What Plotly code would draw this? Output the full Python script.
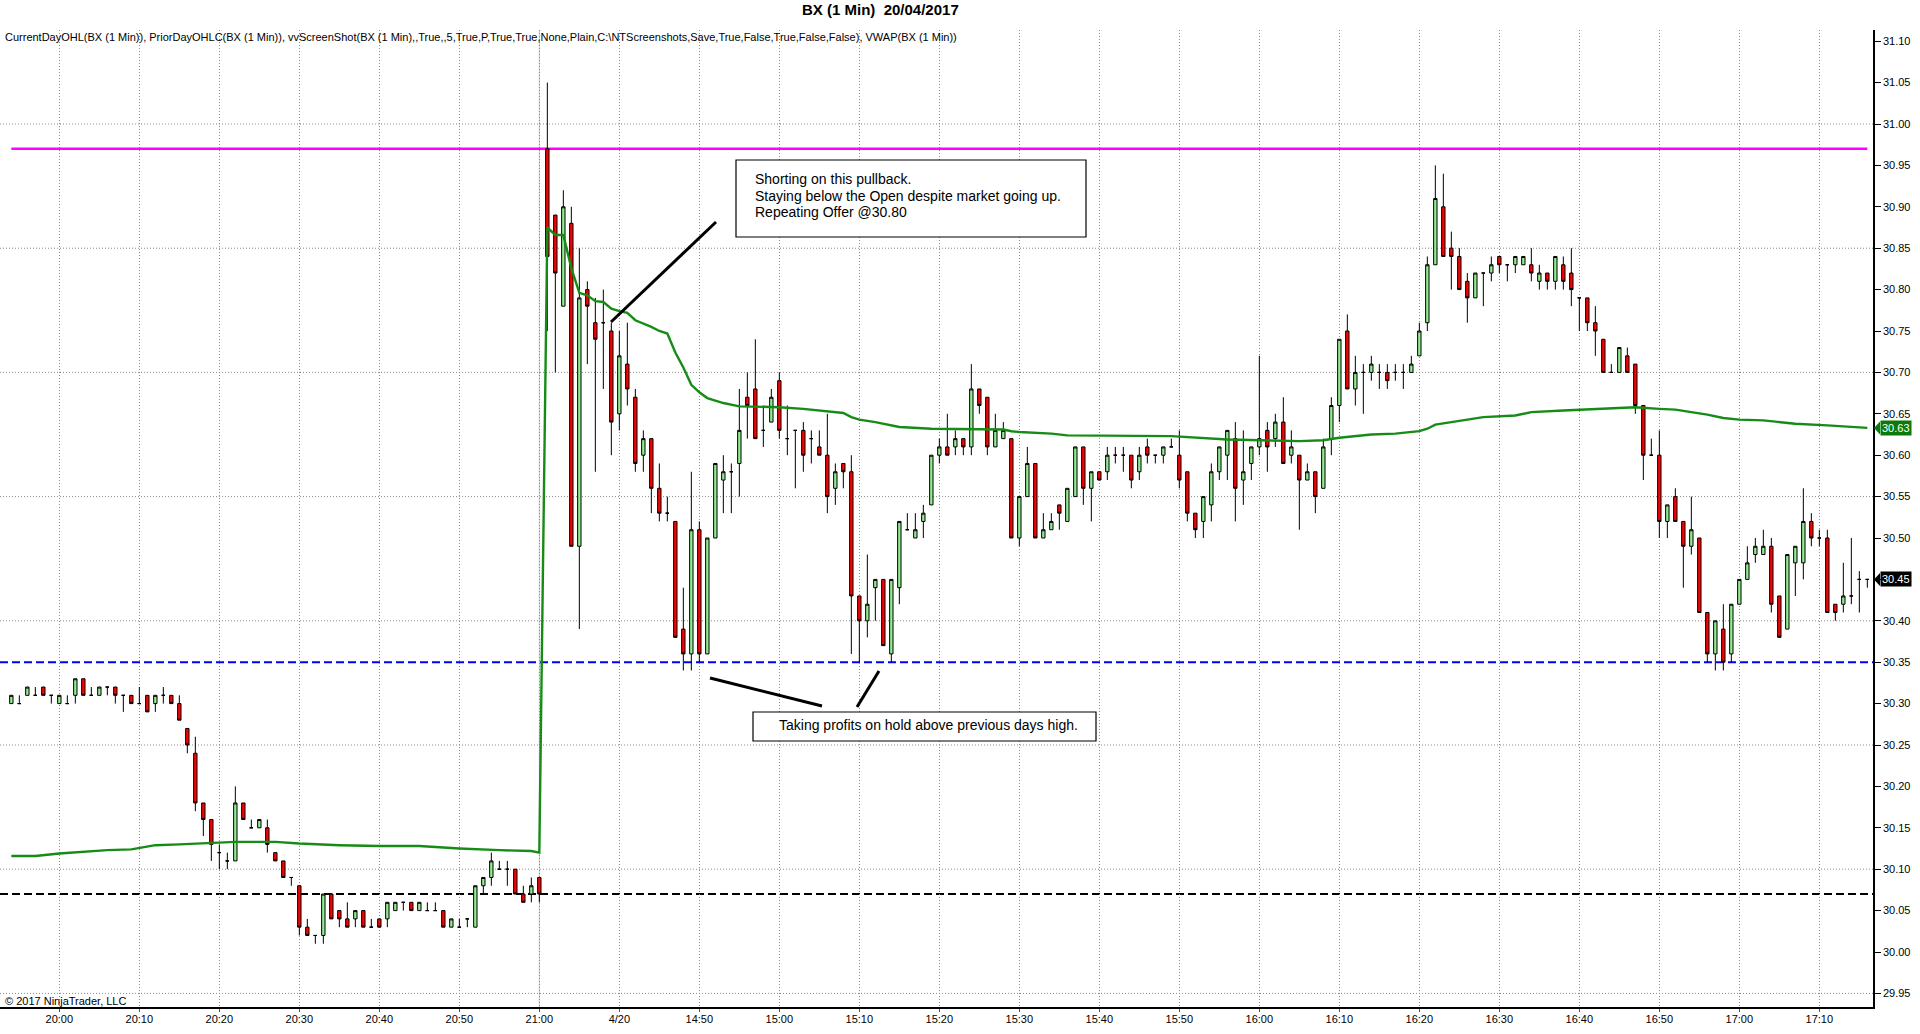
import numpy as np
import pandas as pd
import plotly.graph_objects as go

# ---- BX 1 min bars, tail of prior session (19/04, 19:54 - 21:00) ----
prev_open = [30.30, 30.30, 30.31, 30.31, 30.32, 30.31,
             30.30, 30.30, 30.31, 30.33, 30.31, 30.31, 30.32, 30.32, 30.31, 30.31,
             30.30, 30.31, 30.30, 30.31, 30.31, 30.30, 30.27, 30.24, 30.18, 30.16,
             30.12, 30.11, 30.11, 30.18, 30.15, 30.15, 30.15, 30.12, 30.11, 30.09,
             30.08, 30.03, 30.02, 30.02, 30.07, 30.05, 30.04, 30.04, 30.05, 30.03,
             30.04, 30.04, 30.05, 30.06, 30.06, 30.05, 30.05, 30.05, 30.05, 30.03,
             30.03, 30.04, 30.03, 30.08, 30.09, 30.10, 30.10, 30.10, 30.07, 30.07,
             30.09]
prev_high = [30.31, 30.31, 30.32, 30.32, 30.32, 30.31,
             30.31, 30.31, 30.33, 30.33, 30.32, 30.32, 30.32, 30.32, 30.31, 30.31,
             30.32, 30.31, 30.31, 30.32, 30.31, 30.31, 30.27, 30.26, 30.18, 30.16,
             30.13, 30.12, 30.20, 30.18, 30.16, 30.16, 30.16, 30.12, 30.11, 30.09,
             30.08, 30.04, 30.02, 30.07, 30.07, 30.05, 30.06, 30.05, 30.05, 30.04,
             30.04, 30.06, 30.06, 30.06, 30.06, 30.06, 30.06, 30.06, 30.05, 30.04,
             30.04, 30.04, 30.08, 30.09, 30.12, 30.11, 30.11, 30.10, 30.08, 30.09,
             30.09]
prev_low = [30.30, 30.30, 30.31, 30.31, 30.31, 30.30,
            30.30, 30.30, 30.30, 30.31, 30.31, 30.31, 30.31, 30.30, 30.29, 30.30,
            30.30, 30.29, 30.29, 30.30, 30.30, 30.28, 30.24, 30.17, 30.14, 30.11,
            30.10, 30.10, 30.11, 30.16, 30.15, 30.15, 30.12, 30.11, 30.09, 30.08,
            30.02, 30.02, 30.01, 30.01, 30.04, 30.03, 30.03, 30.03, 30.03, 30.03,
            30.03, 30.03, 30.05, 30.05, 30.05, 30.05, 30.05, 30.05, 30.03, 30.03,
            30.03, 30.03, 30.03, 30.07, 30.08, 30.10, 30.08, 30.07, 30.06, 30.06,
            30.06]
prev_close = [30.31, 30.30, 30.32, 30.31, 30.31, 30.31,
              30.31, 30.30, 30.33, 30.31, 30.31, 30.32, 30.32, 30.31, 30.31, 30.30,
              30.30, 30.29, 30.31, 30.31, 30.30, 30.28, 30.25, 30.18, 30.16, 30.13,
              30.12, 30.11, 30.18, 30.16, 30.15, 30.16, 30.13, 30.11, 30.09, 30.09,
              30.03, 30.02, 30.02, 30.07, 30.04, 30.04, 30.03, 30.05, 30.03, 30.03,
              30.03, 30.06, 30.06, 30.06, 30.05, 30.06, 30.05, 30.05, 30.03, 30.04,
              30.03, 30.04, 30.08, 30.09, 30.11, 30.10, 30.10, 30.07, 30.06, 30.08,
              30.07]

# ---- current session (20/04, 14:31 - 17:16), one row = 10 minutes ----
day_open = [30.97, 30.89, 30.78, 30.88, 30.49, 30.80, 30.76, 30.76, 30.75, 30.65,
            30.71, 30.67, 30.60, 30.62, 30.56, 30.53, 30.52, 30.39, 30.36, 30.51,
            30.36, 30.50, 30.57, 30.58, 30.59, 30.67, 30.68, 30.63, 30.64, 30.69,
            30.62, 30.63, 30.63, 30.62, 30.61, 30.60, 30.56, 30.59, 30.58, 30.43,
            30.40, 30.44, 30.45, 30.36, 30.44, 30.51, 30.50, 30.52, 30.54, 30.60,
            30.61, 30.61, 30.62, 30.61, 30.68, 30.67, 30.61, 30.62, 30.62, 30.50,
            30.55, 30.59, 30.50, 30.51, 30.54, 30.52, 30.55, 30.61, 30.56, 30.58,
            30.58, 30.60, 30.60, 30.60, 30.58, 30.61, 30.60, 30.60, 30.61, 30.60,
            30.58, 30.53, 30.52, 30.54, 30.58, 30.60, 30.62, 30.57, 30.59, 30.61,
            30.63, 30.62, 30.64, 30.60, 30.60, 30.57, 30.58, 30.56, 30.62, 30.66,
            30.75, 30.68, 30.70, 30.70, 30.70, 30.70, 30.70, 30.70, 30.70, 30.72,
            30.76, 30.83, 30.90, 30.85, 30.84, 30.81, 30.79, 30.82, 30.82, 30.84,
            30.83, 30.83, 30.83, 30.83, 30.81, 30.82, 30.81, 30.83, 30.82, 30.79,
            30.79, 30.76, 30.74, 30.70, 30.70, 30.72, 30.71, 30.66, 30.60, 30.60,
            30.52, 30.55, 30.52, 30.49, 30.50, 30.41, 30.36, 30.39, 30.36, 30.42,
            30.45, 30.48, 30.48, 30.49, 30.43, 30.39, 30.47, 30.47, 30.52, 30.50,
            30.50, 30.42, 30.42, 30.43, 30.45, 30.45]
day_high = [31.05, 30.89, 30.92, 30.90, 30.85, 30.81, 30.79, 30.80, 30.76, 30.75,
            30.76, 30.68, 30.63, 30.62, 30.59, 30.55, 30.52, 30.44, 30.58, 30.52,
            30.50, 30.59, 30.60, 30.59, 30.68, 30.70, 30.74, 30.66, 30.68, 30.70,
            30.66, 30.63, 30.64, 30.63, 30.63, 30.65, 30.59, 30.59, 30.60, 30.43,
            30.48, 30.45, 30.45, 30.45, 30.52, 30.53, 30.53, 30.54, 30.60, 30.62,
            30.65, 30.63, 30.62, 30.71, 30.68, 30.67, 30.65, 30.64, 30.62, 30.55,
            30.61, 30.59, 30.53, 30.53, 30.54, 30.56, 30.61, 30.61, 30.58, 30.58,
            30.61, 30.61, 30.61, 30.60, 30.61, 30.62, 30.60, 30.61, 30.62, 30.63,
            30.58, 30.53, 30.55, 30.59, 30.61, 30.63, 30.64, 30.63, 30.61, 30.72,
            30.64, 30.65, 30.67, 30.63, 30.60, 30.59, 30.58, 30.62, 30.67, 30.74,
            30.77, 30.72, 30.71, 30.72, 30.71, 30.71, 30.71, 30.71, 30.72, 30.76,
            30.84, 30.95, 30.94, 30.87, 30.85, 30.82, 30.82, 30.82, 30.84, 30.84,
            30.83, 30.84, 30.84, 30.85, 30.83, 30.82, 30.84, 30.84, 30.85, 30.79,
            30.79, 30.78, 30.74, 30.71, 30.73, 30.73, 30.71, 30.66, 30.62, 30.63,
            30.54, 30.56, 30.52, 30.55, 30.50, 30.41, 30.40, 30.42, 30.42, 30.45,
            30.49, 30.50, 30.51, 30.50, 30.43, 30.48, 30.49, 30.56, 30.53, 30.51,
            30.51, 30.42, 30.47, 30.50, 30.46, 30.45]
day_low = [30.75, 30.70, 30.78, 30.49, 30.39, 30.71, 30.58, 30.68, 30.60, 30.63,
           30.66, 30.58, 30.58, 30.53, 30.52, 30.52, 30.38, 30.34, 30.34, 30.35,
           30.36, 30.50, 30.53, 30.53, 30.55, 30.62, 30.62, 30.61, 30.64, 30.62,
           30.60, 30.56, 30.58, 30.59, 30.60, 30.53, 30.54, 30.56, 30.36, 30.35,
           30.38, 30.40, 30.37, 30.35, 30.42, 30.51, 30.50, 30.50, 30.54, 30.59,
           30.60, 30.60, 30.60, 30.60, 30.65, 30.60, 30.61, 30.62, 30.50, 30.49,
           30.55, 30.50, 30.50, 30.51, 30.51, 30.52, 30.55, 30.54, 30.52, 30.57,
           30.57, 30.59, 30.58, 30.56, 30.57, 30.59, 30.59, 30.59, 30.61, 30.56,
           30.52, 30.50, 30.50, 30.52, 30.57, 30.57, 30.52, 30.54, 30.57, 30.60,
           30.58, 30.61, 30.59, 30.59, 30.51, 30.57, 30.53, 30.56, 30.60, 30.64,
           30.68, 30.66, 30.65, 30.69, 30.68, 30.68, 30.69, 30.68, 30.70, 30.72,
           30.75, 30.83, 30.84, 30.80, 30.80, 30.76, 30.79, 30.78, 30.81, 30.82,
           30.81, 30.82, 30.83, 30.81, 30.80, 30.80, 30.80, 30.80, 30.78, 30.75,
           30.75, 30.72, 30.70, 30.70, 30.70, 30.70, 30.65, 30.57, 30.60, 30.50,
           30.50, 30.52, 30.44, 30.48, 30.41, 30.35, 30.34, 30.34, 30.35, 30.42,
           30.45, 30.47, 30.48, 30.41, 30.38, 30.39, 30.43, 30.45, 30.49, 30.49,
           30.41, 30.40, 30.41, 30.42, 30.41, 30.44]
day_close = [30.84, 30.82, 30.90, 30.49, 30.79, 30.78, 30.74, 30.76, 30.64, 30.72,
             30.68, 30.59, 30.62, 30.56, 30.53, 30.53, 30.38, 30.36, 30.51, 30.36,
             30.50, 30.59, 30.58, 30.58, 30.63, 30.66, 30.62, 30.63, 30.67, 30.63,
             30.62, 30.63, 30.60, 30.62, 30.60, 30.55, 30.58, 30.58, 30.43, 30.40,
             30.42, 30.45, 30.37, 30.45, 30.52, 30.51, 30.51, 30.53, 30.60, 30.61,
             30.60, 30.62, 30.61, 30.68, 30.66, 30.61, 30.63, 30.63, 30.50, 30.55,
             30.59, 30.50, 30.51, 30.52, 30.53, 30.56, 30.61, 30.56, 30.58, 30.57,
             30.60, 30.60, 30.60, 30.57, 30.60, 30.60, 30.60, 30.61, 30.61, 30.57,
             30.53, 30.51, 30.55, 30.58, 30.61, 30.63, 30.56, 30.58, 30.61, 30.62,
             30.61, 30.64, 30.59, 30.61, 30.57, 30.58, 30.55, 30.61, 30.66, 30.74,
             30.68, 30.70, 30.70, 30.71, 30.70, 30.69, 30.70, 30.70, 30.71, 30.75,
             30.83, 30.91, 30.84, 30.84, 30.80, 30.79, 30.82, 30.82, 30.83, 30.83,
             30.83, 30.84, 30.84, 30.82, 30.82, 30.81, 30.84, 30.81, 30.80, 30.79,
             30.76, 30.75, 30.70, 30.70, 30.73, 30.70, 30.66, 30.60, 30.60, 30.52,
             30.54, 30.52, 30.49, 30.51, 30.41, 30.36, 30.40, 30.35, 30.42, 30.45,
             30.47, 30.49, 30.49, 30.42, 30.38, 30.48, 30.49, 30.52, 30.50, 30.50,
             30.41, 30.41, 30.43, 30.43, 30.45, 30.45]

# indicator levels
current_day_open = 30.97
prior_day_high = 30.35
prior_day_close = 30.07

# VWAP
vwap_time = ["19:54", "19:57", "20:00", "20:03", "20:06", "20:09", "20:12", "20:15",
             "20:18", "20:22", "20:27", "20:30", "20:35", "20:40", "20:45", "20:50",
             "20:55", "20:59", "21:00",
             "14:31", "14:32", "14:33", "14:34", "14:35", "14:36", "14:37", "14:38",
             "14:39", "14:40", "14:41", "14:42", "14:43", "14:44", "14:45", "14:46",
             "14:47", "14:48", "14:49", "14:50", "14:51", "14:52", "14:53", "14:55",
             "15:00", "15:03", "15:05", "15:07", "15:08", "15:09", "15:10", "15:12",
             "15:14", "15:15", "15:19", "15:28", "15:29", "15:30", "15:34", "15:36",
             "15:49", "15:52", "15:56", "16:05", "16:08", "16:10", "16:12", "16:14",
             "16:17", "16:20", "16:21", "16:22", "16:24", "16:26", "16:28", "16:32",
             "16:34", "16:38", "16:42", "16:47", "16:50", "16:52", "16:54", "16:56",
             "16:58", "17:00", "17:03", "17:05", "17:07", "17:11", "17:13", "17:16"]
vwap_value = [30.116, 30.116, 30.119, 30.121, 30.123, 30.124, 30.129, 30.130,
              30.131, 30.133, 30.133, 30.131, 30.129, 30.128, 30.128, 30.125,
              30.123, 30.122, 30.120,
              30.875, 30.866, 30.866, 30.826, 30.796, 30.793, 30.786, 30.785,
              30.777, 30.774, 30.772, 30.763, 30.759, 30.755, 30.750, 30.747,
              30.724, 30.706, 30.685, 30.676, 30.669, 30.666, 30.663, 30.659,
              30.658, 30.656, 30.654, 30.652, 30.651, 30.646, 30.643, 30.640,
              30.636, 30.634, 30.632, 30.631, 30.629, 30.628, 30.626, 30.624,
              30.623, 30.621, 30.619, 30.617, 30.618, 30.621, 30.623, 30.625,
              30.626, 30.629, 30.632, 30.637, 30.640, 30.643, 30.646, 30.648,
              30.652, 30.654, 30.656, 30.658, 30.656, 30.655, 30.652, 30.649,
              30.645, 30.643, 30.642, 30.640, 30.638, 30.636, 30.635, 30.633]

tick_time = ["20:00", "20:10", "20:20", "20:30", "20:40", "20:50", "21:00", "14:40",
             "14:50", "15:00", "15:10", "15:20", "15:30", "15:40", "15:50", "16:00",
             "16:10", "16:20", "16:30", "16:40", "16:50", "17:00", "17:10"]
tick_text = ["20:00", "20:10", "20:20", "20:30", "20:40", "20:50", "21:00", "4/20",
             "14:50", "15:00", "15:10", "15:20", "15:30", "15:40", "15:50", "16:00",
             "16:10", "16:20", "16:30", "16:40", "16:50", "17:00", "17:10"]

# bars sit on an index axis (sessions are stitched together)
prev_times = pd.date_range("2017-04-19 19:54", "2017-04-19 21:00", freq="1min").strftime("%H:%M").tolist()
day_times = pd.date_range("2017-04-20 14:31", "2017-04-20 17:16", freq="1min").strftime("%H:%M").tolist()
times = prev_times + day_times
pos = {t: i for i, t in enumerate(times)}
bar_x = list(range(len(times)))

opens = prev_open + day_open
highs = prev_high + day_high
lows = prev_low + day_low
closes = prev_close + day_close
assert len(opens) == len(highs) == len(lows) == len(closes) == len(times)

# page geometry (px) of the plot rectangle
W, H = 1920, 1034
PL, PR, PT, PB = 0, 1873, 30, 1007


def fx(px):
    return (px - PL) / (PR - PL)


def fy(py):
    return (PB - py) / (PB - PT)


FONT = "Arial, Liberation Sans, sans-serif"
GRID = "#8a8a8a"

fig = go.Figure()

fig.add_trace(go.Candlestick(
    x=bar_x, open=opens, high=highs, low=lows, close=closes,
    increasing=dict(fillcolor="#90EE90", line=dict(color="black", width=1)),
    decreasing=dict(fillcolor="#FF0000", line=dict(color="black", width=1)),
    whiskerwidth=0, hoverinfo="skip", showlegend=False,
))

fig.add_trace(go.Scatter(
    x=[pos[t] for t in vwap_time], y=vwap_value, mode="lines",
    line=dict(color="#168c16", width=2.4), hoverinfo="skip", showlegend=False,
))

shapes = []
# horizontal dotted grid every 0.15
for lvl in np.round(np.arange(29.95, 31.01, 0.15), 2):
    shapes.append(dict(type="line", xref="paper", x0=0, x1=1, yref="y", y0=lvl, y1=lvl,
                       line=dict(color=GRID, width=1, dash="1px,2px"), layer="below"))
# session break
shapes.append(dict(type="line", xref="x", x0=pos["21:00"], x1=pos["21:00"], yref="paper", y0=0, y1=1,
                   line=dict(color="#c8c8c8", width=1), layer="below"))
# prior day levels and current open
shapes.append(dict(type="line", xref="paper", x0=0, x1=1, yref="y", y0=prior_day_high, y1=prior_day_high,
                   line=dict(color="#0000FF", width=2, dash="8px,4px"), layer="between"))
shapes.append(dict(type="line", xref="paper", x0=0, x1=1, yref="y", y0=prior_day_close, y1=prior_day_close,
                   line=dict(color="black", width=2, dash="8px,4px"), layer="between"))
shapes.append(dict(type="line", xref="x", x0=0, x1=len(times) - 1, yref="y",
                   y0=current_day_open, y1=current_day_open,
                   line=dict(color="#FF00FF", width=2.5), layer="between"))

# note boxes and pointer strokes (page px)
for x0, y0, x1, y1 in [(736, 160, 1086, 237), (753, 712, 1096, 741)]:
    shapes.append(dict(type="rect", xref="paper", yref="paper", x0=fx(x0), x1=fx(x1), y0=fy(y0), y1=fy(y1),
                       fillcolor="white", line=dict(color="black", width=1.2), layer="above"))
for x0, y0, x1, y1 in [(611, 322, 716, 222), (710, 678, 822, 706), (857, 707, 879, 671)]:
    shapes.append(dict(type="line", xref="paper", yref="paper", x0=fx(x0), x1=fx(x1), y0=fy(y0), y1=fy(y1),
                       line=dict(color="black", width=3), layer="above"))

# right-axis price markers
last_vwap = vwap_value[-1]
last_close = closes[-1]
for val, col in [(last_vwap, "#0b7a0b"), (last_close, "black")]:
    d = 6.5 / 828
    shapes.append(dict(type="path", xref="paper", yref="y",
                       path=f"M {fx(1874)} {val} L {fx(1880)} {val + d} L {fx(1880)} {val - d} Z",
                       fillcolor=col, line=dict(color=col, width=0), layer="above"))

annotations = [
    dict(text="<b>BX (1 Min) &nbsp;20/04/2017</b>", x=fx(880), y=fy(10), xanchor="center", yanchor="middle",
         font=dict(size=15, color="black", family=FONT)),
    dict(text="CurrentDayOHL(BX (1 Min)), PriorDayOHLC(BX (1 Min)), vvScreenShot(BX (1 Min),,True,,5,True,P,"
              "True,True,None,Plain,C:\\NTScreenshots,Save,True,False,True,False,False), VWAP(BX (1 Min))",
         x=fx(3), y=fy(37), xanchor="left", yanchor="middle", font=dict(size=11, color="black", family=FONT)),
    dict(text="\u00a9 2017 NinjaTrader, LLC", x=fx(3), y=fy(1001), xanchor="left", yanchor="middle",
         font=dict(size=11, color="black", family=FONT)),
    dict(text="Shorting on this pullback.", x=fx(753), y=fy(179), xanchor="left", yanchor="middle",
         font=dict(size=14, color="black", family=FONT)),
    dict(text="Staying below the Open despite market going up.", x=fx(753), y=fy(196), xanchor="left",
         yanchor="middle", font=dict(size=14, color="black", family=FONT)),
    dict(text="Repeating Offer @30.80", x=fx(753), y=fy(212), xanchor="left", yanchor="middle",
         font=dict(size=14, color="black", family=FONT)),
    dict(text="Taking profits on hold above previous days high.", x=fx(777), y=fy(725), xanchor="left",
         yanchor="middle", font=dict(size=14, color="black", family=FONT)),
]
for val, col in [(last_vwap, "#0b7a0b"), (last_close, "black")]:
    annotations.append(dict(text=f"{val:.2f}", xref="paper", yref="y", x=fx(1880), y=val,
                            xanchor="left", yanchor="middle", bgcolor=col, borderpad=1,
                            font=dict(size=11, color="white", family=FONT)))
for a in annotations:
    a.setdefault("xref", "paper")
    a.setdefault("yref", "paper")
    a["showarrow"] = False

fig.update_layout(
    width=W, height=H,
    margin=dict(l=PL, r=W - PR, t=PT, b=H - PB, pad=0),
    paper_bgcolor="white", plot_bgcolor="white",
    font=dict(family=FONT, size=11, color="black"),
    boxgap=0.4,
    showlegend=False,
    hovermode=False,
    shapes=shapes,
    annotations=annotations,
    xaxis=dict(
        range=[-11.33 / 8, (PR - 11.33) / 8],
        tickvals=[pos[t] for t in tick_time], ticktext=tick_text,
        showgrid=True, gridcolor=GRID, gridwidth=1, griddash="1px,2px",
        ticks="outside", ticklen=3, tickcolor="#555",
        showline=True, linecolor="black", linewidth=1.5,
        zeroline=False, rangeslider=dict(visible=False),
        tickfont=dict(size=11, family=FONT), automargin=False,
        ticklabelstandoff=-2,
    ),
    yaxis=dict(
        range=[31.0 - (PB - 124) / 828, 31.0 + (124 - PT) / 828],
        side="right", tickvals=list(np.round(np.arange(29.95, 31.11, 0.05), 2)), tickformat=".2f",
        showgrid=False, zeroline=False,
        ticks="outside", ticklen=6, tickcolor="black",
        showline=True, linecolor="black", linewidth=1.5,
        tickfont=dict(size=11, family=FONT), automargin=False,
    ),
)

# page body margin would push the figure off the 1920x1034 window
fig.write_html("out.html", config={"displayModeBar": False},
               post_script="document.body.style.margin='0';document.body.style.overflow='hidden';")
